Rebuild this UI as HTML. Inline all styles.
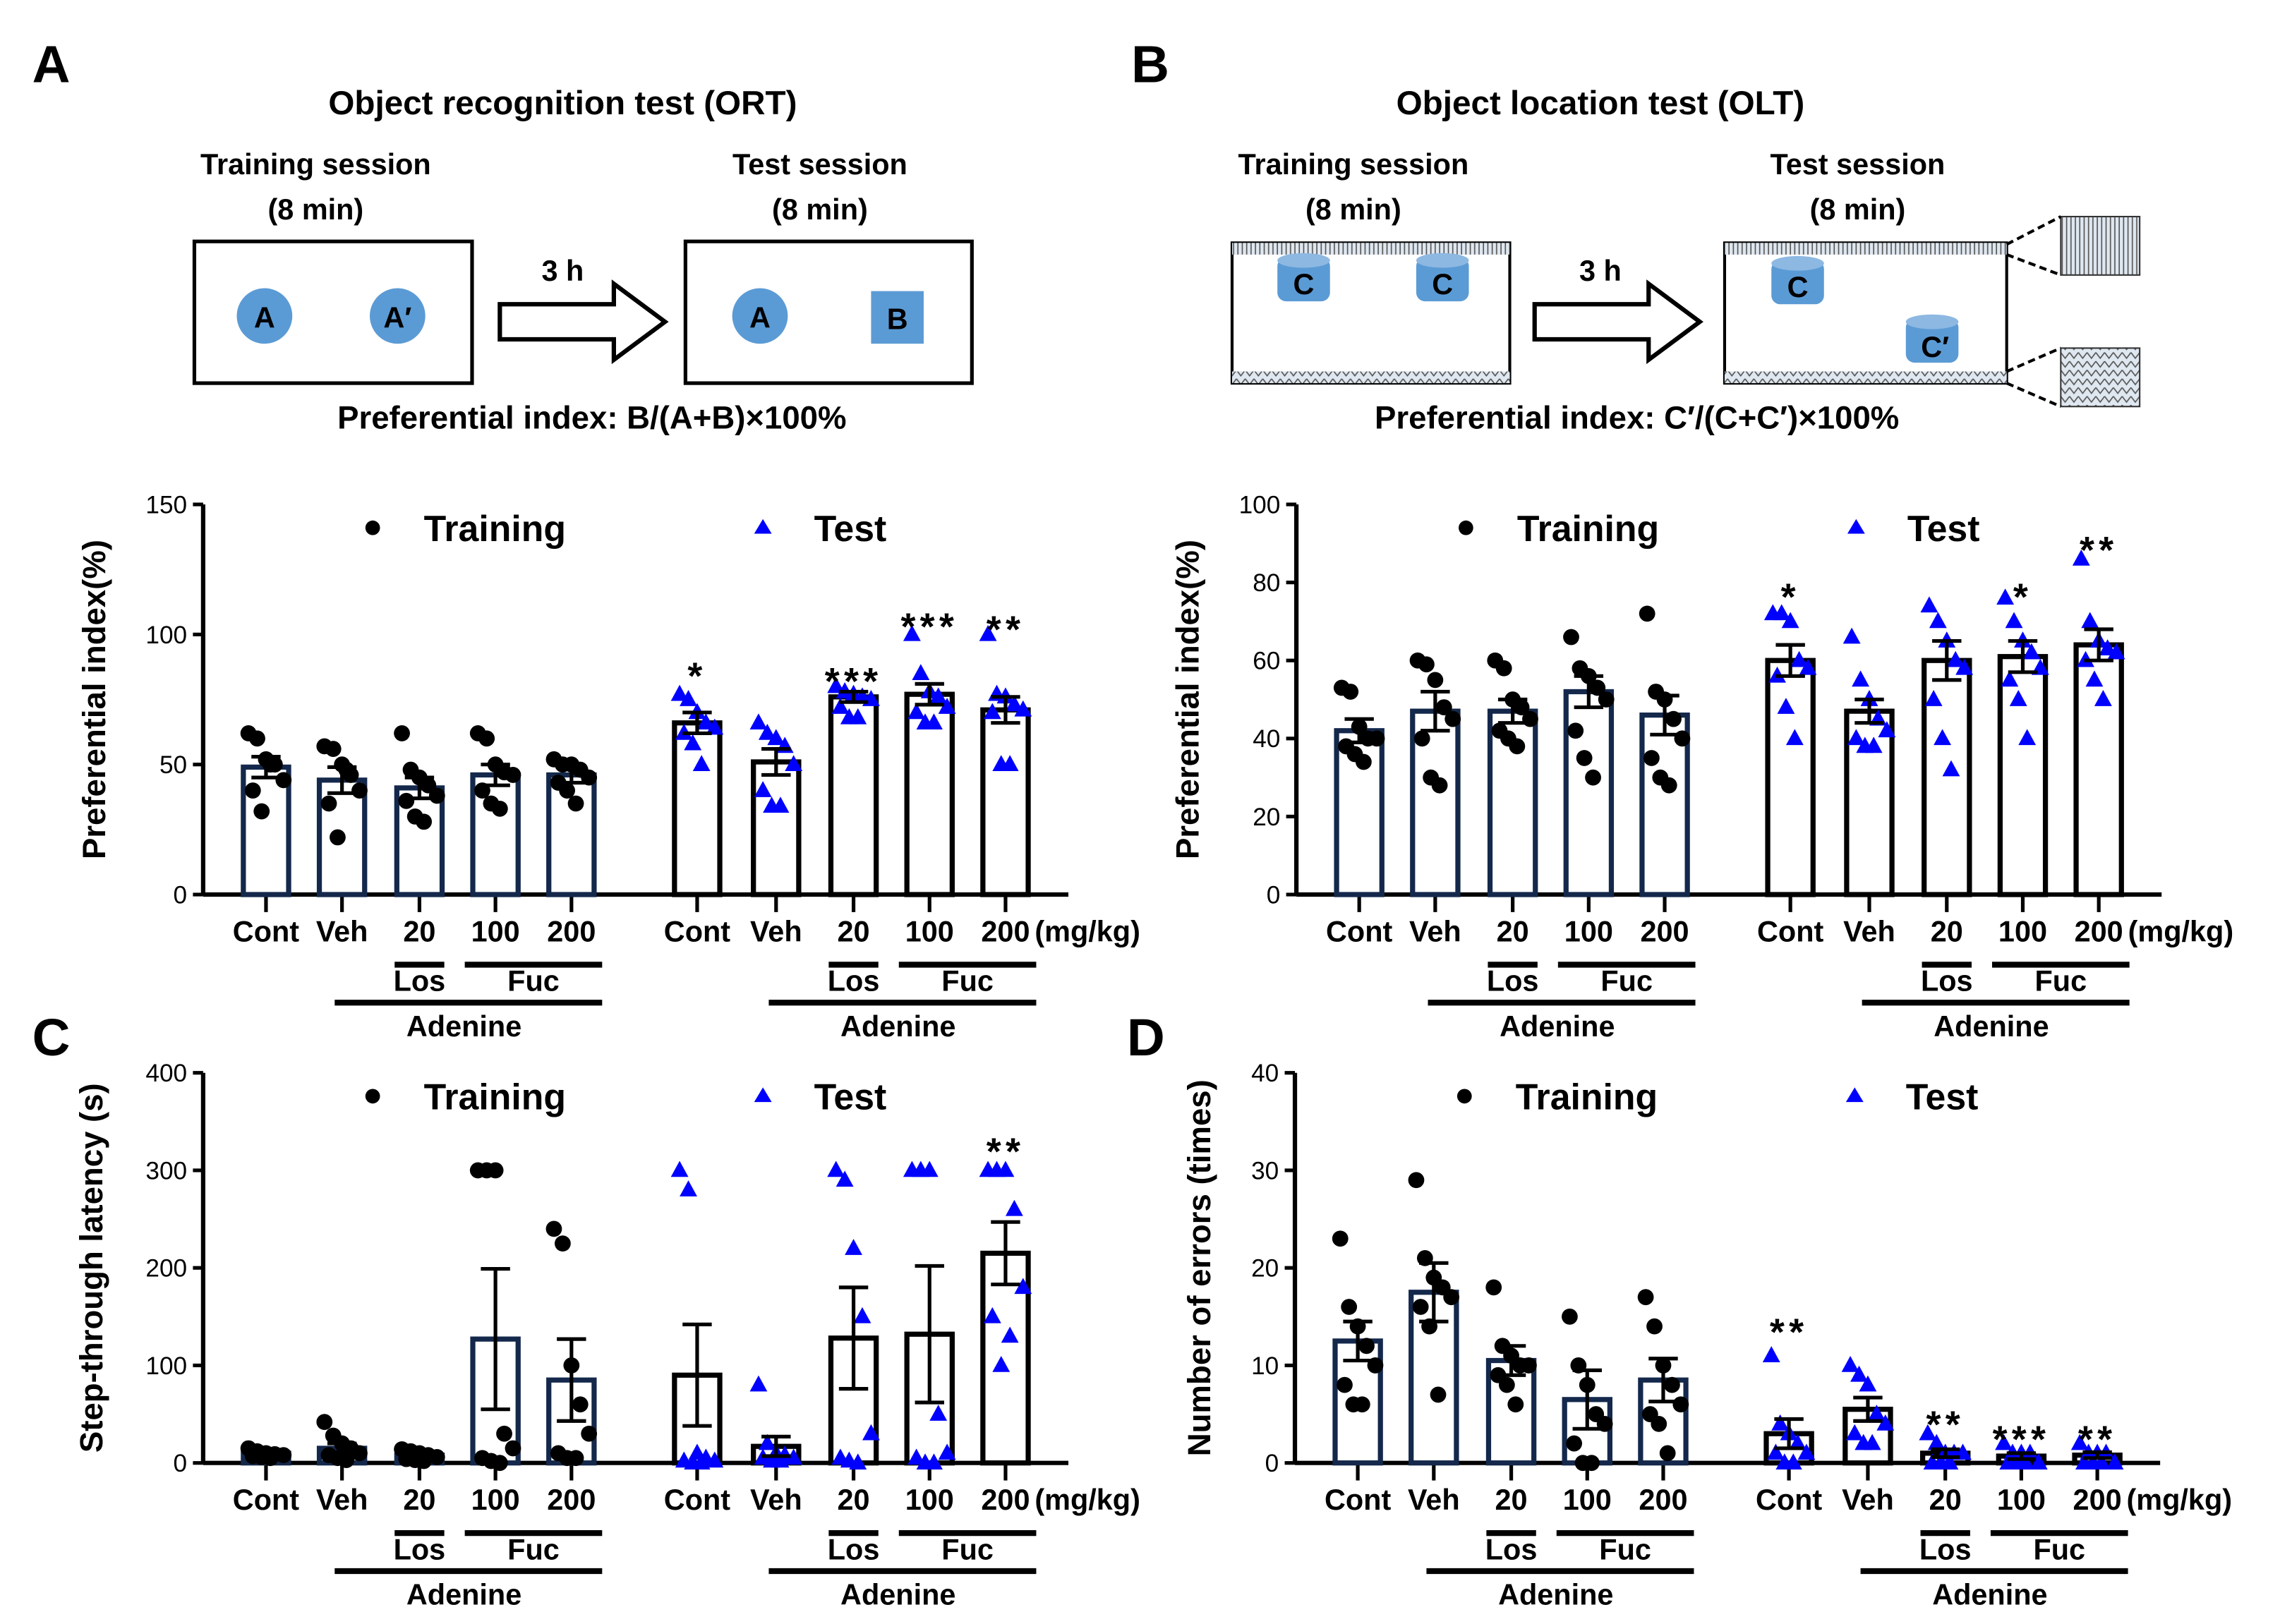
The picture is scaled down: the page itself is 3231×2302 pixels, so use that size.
<!DOCTYPE html>
<html><head><meta charset="utf-8"><style>
html,body{margin:0;padding:0;background:#fff;}
svg{display:block;font-family:"Liberation Sans",sans-serif;}
</style></head><body>
<svg id="fig" width="3231" height="2302" viewBox="0 0 1560 1111" xmlns="http://www.w3.org/2000/svg">
<defs>
<pattern id="hatch1" width="3" height="8" patternUnits="userSpaceOnUse"><rect width="3" height="8" fill="#dfe7f0"/><line x1="1" y1="0" x2="1" y2="8" stroke="#555" stroke-width="0.8"/></pattern>
<pattern id="hatch2" width="6" height="6" patternUnits="userSpaceOnUse"><rect width="6" height="6" fill="#dfe7f0"/><path d="M0 1 L3 5 L6 1" stroke="#555" stroke-width="0.8" fill="none"/></pattern>
</defs>
<g font-weight="bold" font-size="36" fill="#000">
<text x="22" y="56">A</text>
<text x="774" y="56">B</text>
<text x="22" y="722">C</text>
<text x="771" y="722">D</text>
</g>
<g font-weight="bold" text-anchor="middle">
<text x="385" y="78" font-size="23">Object recognition test (ORT)</text>
<text x="216" y="119" font-size="20">Training session</text>
<text x="216" y="150" font-size="20">(8 min)</text>
<text x="561" y="119" font-size="20">Test session</text>
<text x="561" y="150" font-size="20">(8 min)</text>
<rect x="133" y="165" width="190" height="97" fill="none" stroke="#000" stroke-width="2.5"/>
<rect x="469" y="165" width="196" height="97" fill="none" stroke="#000" stroke-width="2.5"/>
<circle cx="181" cy="216" r="19" fill="#5b9bd5"/><text x="181" y="224" font-size="20">A</text>
<circle cx="272" cy="216" r="19" fill="#5b9bd5"/><text x="272" y="224" font-size="20">A′</text>
<circle cx="520" cy="216" r="19" fill="#5b9bd5"/><text x="520" y="224" font-size="20">A</text>
<rect x="596" y="199" width="36" height="36" fill="#5b9bd5"/><text x="614" y="225" font-size="20">B</text>
<path d="M342 208 H420 V194 L455 220 L420 246 V232 H342 Z" fill="#fff" stroke="#000" stroke-width="3"/>
<text x="385" y="192" font-size="20">3 h</text>
<text x="405" y="293" font-size="22">Preferential index: B/(A+B)×100%</text>
</g>
<g font-weight="bold" text-anchor="middle">
<text x="1095" y="78" font-size="23">Object location test (OLT)</text>
<text x="926" y="119" font-size="20">Training session</text>
<text x="926" y="150" font-size="20">(8 min)</text>
<text x="1271" y="119" font-size="20">Test session</text>
<text x="1271" y="150" font-size="20">(8 min)</text>
<rect x="843" y="166" width="190" height="96" fill="none" stroke="#000" stroke-width="2"/>
<rect x="843" y="166" width="190" height="8" fill="url(#hatch1)"/>
<rect x="843" y="254" width="190" height="8" fill="url(#hatch2)"/>
<rect x="1180" y="166" width="193" height="96" fill="none" stroke="#000" stroke-width="2"/>
<rect x="1180" y="166" width="193" height="8" fill="url(#hatch1)"/>
<rect x="1180" y="254" width="193" height="8" fill="url(#hatch2)"/>
<g fill="#5b9bd5">
<rect x="874" y="176" width="36" height="30" rx="6"/><ellipse cx="892" cy="178" rx="18" ry="5" fill="#8db8e2"/>
<rect x="969" y="176" width="36" height="30" rx="6"/><ellipse cx="987" cy="178" rx="18" ry="5" fill="#8db8e2"/>
<rect x="1212" y="178" width="36" height="30" rx="6"/><ellipse cx="1230" cy="180" rx="18" ry="5" fill="#8db8e2"/>
<rect x="1304" y="218" width="36" height="30" rx="6"/><ellipse cx="1322" cy="220" rx="18" ry="5" fill="#8db8e2"/>
</g>
<text x="892" y="201" font-size="20">C</text><text x="987" y="201" font-size="20">C</text>
<text x="1230" y="203" font-size="20">C</text><text x="1324" y="244" font-size="20">C′</text>
<path d="M1050 208 H1128 V194 L1163 220 L1128 246 V232 H1050 Z" fill="#fff" stroke="#000" stroke-width="3"/>
<text x="1095" y="192" font-size="20">3 h</text>
<rect x="1410" y="148" width="54" height="40" fill="url(#hatch1)" stroke="#333"/>
<rect x="1410" y="238" width="54" height="40" fill="url(#hatch2)" stroke="#333"/>
<path d="M1373 167 L1410 148 M1373 174 L1410 188 M1373 254 L1410 238 M1373 262 L1410 278" stroke="#000" stroke-width="2" stroke-dasharray="5,3"/>
<text x="1120" y="293" font-size="22">Preferential index: C′/(C+C′)×100%</text>
</g>
<g id="charts"></g>
</svg>
<script>
const groups = ["Cont","Veh","20","100","200"];
const aTrainMean = [49,44,41,46,46];
const aTrainSem = [4,5,4,4,3];
const aTestMean = [66,51,76,77,71];
const aTestSem = [4,5,2,4,5];
const aTrainPts = [[62,60,52,50,44,40,32,50],[57,56,50,46,40,35,22,48],[62,48,45,42,38,36,30,28],[62,60,50,47,46,40,35,33],[52,50,50,48,45,43,40,35]];
const aTestPts = [[77,75,70,66,64,62,58,50],[66,62,60,57,50,40,34,34],[80,78,77,76,75,72,68,68],[100,85,78,76,72,70,66,66],[100,77,76,73,71,70,50,50]];
const aStars = ["*","","***","***","**"];
const aStarVal = [88,0,86,107,106];
const aTicks = [0,50,100,150];
const bTrainMean = [42,47,47,52,46];
const bTrainSem = [3,5,3,4,5];
const bTestMean = [60,47,60,61,64];
const bTestSem = [4,3,5,4,4];
const bTrainPts = [[53,52,43,40,40,38,36,34],[60,59,55,48,45,40,30,28],[60,58,50,48,45,42,40,38],[66,58,56,53,50,42,35,30],[72,52,50,45,40,35,30,28]];
const bTestPts = [[72,72,70,60,58,56,48,40],[66,55,50,45,42,40,38,38],[74,70,65,60,58,50,40,32],[76,70,65,62,58,55,50,40],[86,70,65,63,62,60,55,50]];
const bStars = ["*","","","*","**"];
const bStarVal = [79,0,0,79,91];
const bTicks = [0,20,40,60,80,100];
const cTrainMean = [10,15,8,127,85];
const cTrainSem = [2,5,2,72,42];
const cTestMean = [90,17,128,132,215];
const cTestSem = [52,10,52,70,32];
const cTrainPts = [[15,12,10,9,8,7,6,5],[42,28,20,15,10,8,5,3],[14,12,10,8,6,4,3,2],[300,300,300,30,15,5,2,0],[240,225,100,60,30,10,5,5]];
const cTestPts = [[300,280,10,5,2,2,0,0],[80,20,10,8,5,5,2,2],[300,290,220,150,30,5,2,0],[300,300,300,50,10,5,0,0],[300,300,300,260,180,150,100,130]];
const cStars = ["","","","","**"];
const cStarVal = [0,0,0,0,330];
const cTicks = [0,100,200,300,400];
const dTrainMean = [12.5,17.5,10.5,6.5,8.5];
const dTrainSem = [2,3,1.5,3,2.2];
const dTestMean = [3,5.5,1,0.7,0.8];
const dTestSem = [1.5,1.2,0.4,0.3,0.3];
const dTrainPts = [[23,16,14,12,10,8,6,6],[29,21,19,18,17,16,14,7],[18,12,11,10,10,9,8,6],[15,10,8,5,4,2,0,0],[17,14,10,8,6,5,4,1]];
const dTestPts = [[11,4,3,2,1,1,0,0],[10,9,8,5,4,3,2,2],[3,2,1,1,1,0,0,0],[2,1,1,1,0,0,0,0],[2,1,1,1,0,0,0,0]];
const dStars = ["**","","**","***","**"];
const dStarVal = [14.5,0,5,3.5,3.5];
const dTicks = [0,10,20,30,40];

const NS="http://www.w3.org/2000/svg";
const root=document.getElementById('charts');
function mk(tag,attrs,parent){const e=document.createElementNS(NS,tag);for(const k in attrs)e.setAttribute(k,attrs[k]);(parent||root).appendChild(e);return e;}

function panel(cfg){
  const g=mk('g',{});
  
  
  const y0=cfg.y0, yTop=cfg.yTop, max=cfg.ticks[cfg.ticks.length-1];
  const Y=v=>y0-(v/max)*(y0-yTop);
  const axX=cfg.ax;
  const trX=[axX+43,axX+95,axX+148,axX+200,axX+252];
  const teX=[axX+338,axX+392,axX+445,axX+497,axX+549];
  const bw=31;
  const ya=mk('line',{x1:axX,y1:y0,x2:axX,y2:yTop,stroke:'#000','stroke-width':3},g);
  
  
  cfg.ticks.forEach(t=>{
    mk('line',{x1:axX-7,y1:Y(t),x2:axX,y2:Y(t),stroke:'#000','stroke-width':2.5},g);
    const tl=mk('text',{x:axX-11,y:Y(t)+6,'font-size':17,'text-anchor':'end'},g);
    tl.textContent=t;
    
    
  });
  const xa=mk('line',{x1:axX,y1:y0,x2:axX+592,y2:y0,stroke:'#000','stroke-width':3},g);
  
  
  const yl=mk('text',{transform:`translate(${cfg.ylx},${(y0+yTop)/2}) rotate(-90)`,'font-size':22,'font-weight':'bold','text-anchor':'middle'},g);
  yl.textContent=cfg.ylabel;
  
  
  function series(xs,mean,sem,pts,color,isTri,label){
    xs.forEach((x,i)=>{
      mk('line',{x1:x,y1:y0,x2:x,y2:y0+12,stroke:'#000','stroke-width':2.5},g);
      const b=mk('rect',{x:x-bw/2,y:Y(mean[i]),width:bw,height:y0-Y(mean[i]),fill:'#fff',stroke:color,'stroke-width':3.5},g);
      
      
      pts[i].forEach((v,j)=>{
        const dx=((j%5)-2)*6+(j>=5?3:0);
        const py=Y(v);
        let m;
        if(isTri) m=mk('path',{d:`M${x+dx} ${py-6.5} L${x+dx+6} ${py+4.5} L${x+dx-6} ${py+4.5} Z`,fill:'#0000ff'},g);
        else m=mk('circle',{cx:x+dx,cy:py,r:5.5,fill:'#000'},g);
        
        
      });
      const e=mk('path',{d:`M${x} ${Y(mean[i]+sem[i])} V${Y(Math.max(0,mean[i]-sem[i]))} M${x-10} ${Y(mean[i]+sem[i])} H${x+10} M${x-10} ${Y(Math.max(0,mean[i]-sem[i]))} H${x+10}`,stroke:'#000','stroke-width':2.5,fill:'none'},g);
      
      
    });
  }
  series(trX,cfg.trM,cfg.trS,cfg.trP,'#14284b',false,'training');
  series(teX,cfg.teM,cfg.teS,cfg.teP,'#000',true,'test');
  cfg.stars.forEach((s,i)=>{ if(!s)return;
    const t=mk('text',{x:teX[i],y:Y(cfg.starV[i])+16,'font-size':26,'text-anchor':'middle','font-weight':'bold','letter-spacing':3},g);
    t.textContent=s;
    
    
  });
  const ly=yTop+17;
  mk('circle',{cx:axX+116,cy:ly-1,r:5,fill:'#000'},g);
  const lt1=mk('text',{x:axX+151,y:ly+8,'font-size':25,'font-weight':'bold'},g);lt1.textContent='Training';
  
  
  mk('path',{d:`M${axX+383} ${ly-7} L${axX+389} ${ly+3} L${axX+377} ${ly+3} Z`,fill:'#0000ff'},g);
  const lt2=mk('text',{x:axX+418,y:ly+8,'font-size':25,'font-weight':'bold'},g);lt2.textContent='Test';
  
  
  const lb=y0+32;
  [trX,teX].forEach((xs,k)=>{
    groups.forEach((n,i)=>{const t=mk('text',{x:xs[i],y:lb,'font-size':20,'font-weight':'bold','text-anchor':'middle'},g);t.textContent=n;
      
      });
    mk('line',{x1:xs[2]-17,y1:y0+48,x2:xs[2]+17,y2:y0+48,stroke:'#000','stroke-width':4},g);
    mk('line',{x1:xs[3]-21,y1:y0+48,x2:xs[4]+21,y2:y0+48,stroke:'#000','stroke-width':4},g);
    const l1=mk('text',{x:xs[2],y:y0+66,'font-size':20,'font-weight':'bold','text-anchor':'middle'},g);l1.textContent='Los';
    const l2=mk('text',{x:(xs[3]+xs[4])/2,y:y0+66,'font-size':20,'font-weight':'bold','text-anchor':'middle'},g);l2.textContent='Fuc';
    mk('line',{x1:xs[1]-5,y1:y0+74,x2:xs[4]+21,y2:y0+74,stroke:'#000','stroke-width':4},g);
    const l3=mk('text',{x:(xs[1]+xs[4])/2+5,y:y0+97,'font-size':20,'font-weight':'bold','text-anchor':'middle'},g);l3.textContent='Adenine';
  });
  const u=mk('text',{x:teX[4]+20,y:lb,'font-size':20,'font-weight':'bold'},g);u.textContent='(mg/kg)';
}
panel({name:'chart-a-ort',ax:139,y0:612,yTop:345,ticks:aTicks,ylabel:'Preferential index(%)',ylx:72,trM:aTrainMean,trS:aTrainSem,teM:aTestMean,teS:aTestSem,trP:aTrainPts,teP:aTestPts,stars:aStars,starV:aStarVal});
panel({name:'chart-b-olt',ax:887,y0:612,yTop:345,ticks:bTicks,ylabel:'Preferential index(%)',ylx:820,trM:bTrainMean,trS:bTrainSem,teM:bTestMean,teS:bTestSem,trP:bTrainPts,teP:bTestPts,stars:bStars,starV:bStarVal});
panel({name:'chart-c-latency',ax:139,y0:1001,yTop:734,ticks:cTicks,ylabel:'Step-through latency (s)',ylx:70,trM:cTrainMean,trS:cTrainSem,teM:cTestMean,teS:cTestSem,trP:cTrainPts,teP:cTestPts,stars:cStars,starV:cStarVal});
panel({name:'chart-d-errors',ax:886,y0:1001,yTop:734,ticks:dTicks,ylabel:'Number of errors (times)',ylx:828,trM:dTrainMean,trS:dTrainSem,teM:dTestMean,teS:dTestSem,trP:dTrainPts,teP:dTestPts,stars:dStars,starV:dStarVal});
</script>
</body></html>
